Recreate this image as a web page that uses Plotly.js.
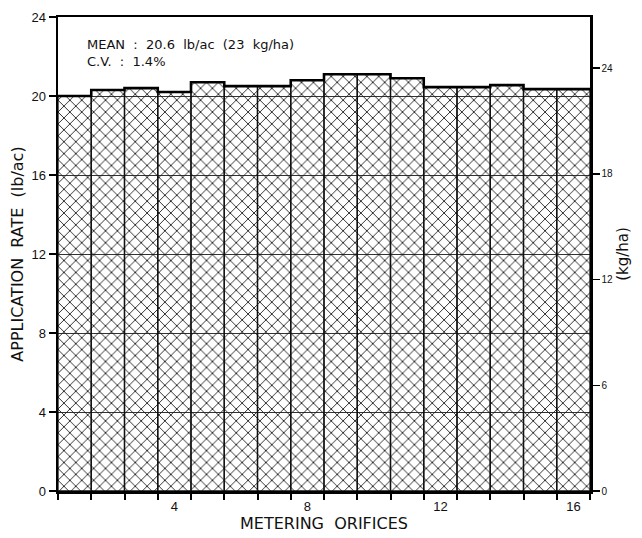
<!DOCTYPE html>
<html>
<head>
<meta charset="utf-8">
<script src="https://cdn.plot.ly/plotly-3.0.1.min.js"></script>
<style>
html,body{margin:0;padding:0;background:#fff;}
#chart{width:642px;height:538px;}
</style>
</head>
<body>
<div id="chart"></div>
<script>
// Data
const orifices = [1,2,3,4,5,6,7,8,9,10,11,12,13,14,15,16];
const rateLbAc = [20.0,20.3,20.4,20.2,20.7,20.5,20.5,20.8,21.1,21.1,20.9,20.45,20.45,20.55,20.35,20.35];
const xTickVals = [4,8,12,16];
const yTickVals = [0,4,8,12,16,20,24];
const kgTickVals = [0,6,12,18,24];
const statsLines = ["MEAN  :  20.6  lb/ac  (23  kg/ha)", "C.V.  :  1.4%"];
const LB_AC_TO_KG_HA = 1.12085;

// bar boundaries and step outline for bar tops, derived from data
const boundaries = orifices.map(v => v - 0.5).concat([orifices[orifices.length-1] + 0.5]);
const stepY = rateLbAc.concat([rateLbAc[rateLbAc.length-1]]);

const font = "Liberation Sans, Arial, sans-serif";
const wide = "DejaVu Sans, Verdana, sans-serif";

const traces = [
  {
    type: 'bar',
    x: orifices,
    y: rateLbAc,
    width: 1,
    marker: {
      color: '#111',
      line: {color: '#111', width: 1.3},
      pattern: {shape: 'x', size: 8.4, solidity: 0.2, fgcolor: '#1a1a1a', fillmode: 'replace'}
    },
    hoverinfo: 'skip',
    showlegend: false
  },
  {
    type: 'scatter',
    mode: 'lines',
    x: boundaries,
    y: stepY,
    line: {shape: 'hv', color: '#000', width: 2.6},
    hoverinfo: 'skip',
    showlegend: false
  },
  {
    type: 'scatter',
    mode: 'lines',
    x: [orifices[0]],
    y: [rateLbAc[0] * LB_AC_TO_KG_HA],
    yaxis: 'y2',
    line: {color: 'rgba(0,0,0,0)'},
    hoverinfo: 'skip',
    showlegend: false
  },
  {
    type: 'scatter',
    mode: 'lines',
    x: [orifices[0]],
    y: [rateLbAc[0]],
    xaxis: 'x2',
    line: {color: 'rgba(0,0,0,0)'},
    hoverinfo: 'skip',
    showlegend: false
  }
];

const layout = {
  width: 642,
  height: 538,
  margin: {l: 58, r: 52, t: 17, b: 47},
  paper_bgcolor: '#fff',
  plot_bgcolor: '#fff',
  font: {family: font, color: '#111'},
  bargap: 0,
  xaxis: {
    range: [0.5, 16.5],
    tickvals: xTickVals,
    ticktext: xTickVals.map(String),
    ticks: 'outside',
    ticklen: 2,
    tickcolor: 'rgba(0,0,0,0)',
    tickfont: {size: 13, family: font, color: '#111'},
    showgrid: false,
    zeroline: false,
    showline: true,
    mirror: true,
    linecolor: '#000',
    linewidth: 2.5,
    title: {text: 'METERING  ORIFICES', font: {size: 16, family: wide, color: '#111'}, standoff: 4}
  },
  xaxis2: {
    overlaying: 'x',
    side: 'bottom',
    anchor: 'y',
    range: [0.5, 16.5],
    tickvals: boundaries,
    ticktext: boundaries.map(() => ''),
    ticks: 'outside',
    ticklen: 8,
    tickwidth: 2,
    tickcolor: '#000',
    showgrid: false,
    zeroline: false,
    showline: false,
    showticklabels: false
  },
  yaxis: {
    range: [0, 24],
    tickvals: yTickVals,
    ticks: 'outside',
    ticklen: 7,
    tickwidth: 1.5,
    tickcolor: '#000',
    tickfont: {size: 13, family: font, color: '#111'},
    showgrid: true,
    gridcolor: '#333',
    gridwidth: 1,
    zeroline: false,
    showline: true,
    linecolor: '#000',
    linewidth: 2.5,
    title: {text: 'APPLICATION  RATE  (lb/ac)', font: {size: 16, family: wide, color: '#111'}, standoff: 4}
  },
  yaxis2: {
    overlaying: 'y',
    side: 'right',
    range: [0, 24 * LB_AC_TO_KG_HA],
    tickvals: kgTickVals,
    ticks: 'outside',
    ticklen: 7,
    tickwidth: 1.5,
    tickcolor: '#000',
    tickfont: {size: 10, family: font, color: '#111'},
    showgrid: false,
    zeroline: false,
    showline: true,
    linecolor: '#000',
    linewidth: 2.5,
    title: {text: '(kg/ha)', font: {size: 15, family: wide, color: '#111'}, standoff: 6}
  },
  annotations: [
    {
      xref: 'paper', yref: 'paper',
      x: 0.05, y: 0.962,
      xanchor: 'left', yanchor: 'top',
      align: 'left',
      showarrow: false,
      text: statsLines.join('<br>'),
      font: {size: 13, family: wide, color: '#111'}
    }
  ]
};

Plotly.newPlot('chart', traces, layout, {displayModeBar: false, staticPlot: true});
</script>
</body>
</html>
